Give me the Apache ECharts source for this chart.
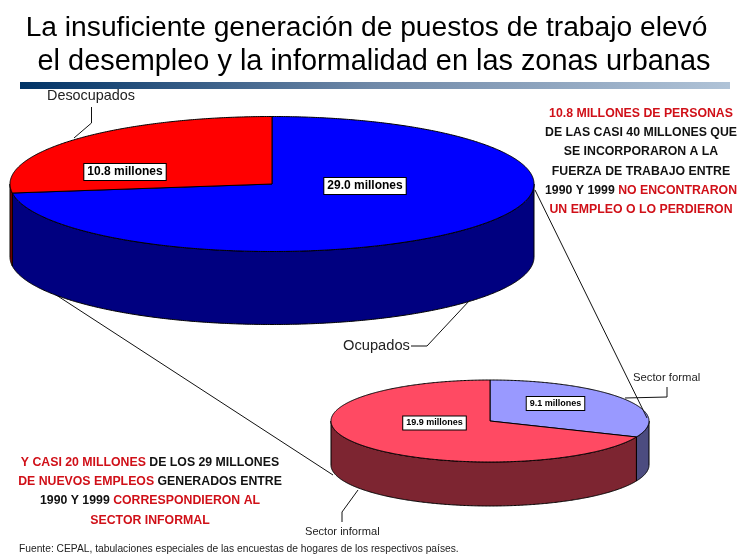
<!DOCTYPE html>
<html>
<head>
<meta charset="utf-8">
<style>html,body{margin:0;padding:0;background:#fff}#c{width:740px;height:554px}</style>
<script src="https://cdn.jsdelivr.net/npm/echarts@6/dist/echarts.min.js"></script>
</head>
<body>
<div id="c"></div>
<script>
// ---- data ----
const titleLines = ['La insuficiente generación de puestos de trabajo elevó', 'el desempleo y la informalidad en las zonas urbanas'];
const mainCategories = ['Ocupados', 'Desocupados'];
const mainValues = [29.0, 10.8];
const subCategories = ['Sector formal', 'Sector informal'];
const subValues = [9.1, 19.9];
const unitLabel = 'millones';
const sourceNote = 'Fuente: CEPAL, tabulaciones especiales de las encuestas de hogares de los respectivos países.';
const rightNote = [
  [['r', '10.8 MILLONES DE PERSONAS']],
  [['k', 'DE LAS CASI 40 MILLONES QUE']],
  [['k', 'SE INCORPORARON A LA']],
  [['k', 'FUERZA DE TRABAJO ENTRE']],
  [['k', '1990 Y 1999 '], ['r', 'NO ENCONTRARON']],
  [['r', 'UN EMPLEO O LO PERDIERON']]
];
const leftNote = [
  [['r', 'Y CASI 20 MILLONES '], ['k', 'DE LOS 29 MILLONES']],
  [['r', 'DE NUEVOS EMPLEOS '], ['k', 'GENERADOS ENTRE']],
  [['k', '1990 Y 1999 '], ['r', 'CORRESPONDIERON AL']],
  [['r', 'SECTOR INFORMAL']]
];

// ---- layout and style ----
const FONT = '"Liberation Sans", Arial, sans-serif';
const mainPie = {cx: 272, cy: 184, rx: 262, ry: 67.5, depth: 73,
  top: ['#0000FF', '#FF0000'], side: ['#000080', '#800000'],
  font: 'bold 12px ' + FONT, labelAt: [[365, 186], [125, 172]]};
const subPie = {cx: 490, cy: 421, rx: 159, ry: 41, depth: 44,
  top: ['#9999FF', '#FF4A63'], side: ['#4C4C80', '#7D2531'],
  font: 'bold 9px ' + FONT, labelAt: [[555.5, 403.5], [434.5, 423]]};

function pieSeries(name, values, cats, g) {
  const total = values.reduce((a, b) => a + b, 0);
  const pt = (deg, dy) => {
    const t = deg * Math.PI / 180;
    return [g.cx + g.rx * Math.sin(t), g.cy - g.ry * Math.cos(t) + (dy || 0)];
  };
  return {
    type: 'custom', name, coordinateSystem: 'none', animation: false, silent: true,
    data: values.map((v, i) => ({name: cats[i], value: [v]})),
    renderItem(params, api) {
      const i = params.dataIndex;
      const before = values.slice(0, i).reduce((a, b) => a + b, 0);
      const a0 = before / total * 360, a1 = (before + api.value(0)) / total * 360;
      const children = [];
      const w0 = Math.max(a0, 90), w1 = Math.min(a1, 270);
      const line = {stroke: '#000', lineWidth: 1, lineJoin: 'round'};
      if (w1 > w0) {
        const upper = [], lower = [];
        for (let d = w0; d < w1; d += 0.5) { upper.push(pt(d)); lower.push(pt(d, g.depth)); }
        upper.push(pt(w1)); lower.push(pt(w1, g.depth));
        children.push({type: 'polygon', shape: {points: upper.concat(lower.reverse())},
          style: Object.assign({fill: g.side[i]}, line)});
      }
      const top = [[g.cx, g.cy]];
      for (let d = a0; d < a1; d += 0.5) top.push(pt(d));
      top.push(pt(a1));
      children.push({type: 'polygon', shape: {points: top},
        style: Object.assign({fill: g.top[i]}, line)});
      children.push({type: 'text', x: g.labelAt[i][0], y: g.labelAt[i][1], z2: 10,
        style: {text: api.value(0).toFixed(1) + ' ' + unitLabel, font: g.font, fill: '#000',
          align: 'center', verticalAlign: 'middle', backgroundColor: '#fff',
          borderColor: '#000', borderWidth: 1, padding: [2, 3, 2, 3]}});
      return {type: 'group', children};
    }
  };
}

function richNote(lines, x, y, size, lh) {
  const text = lines.map(l => l.map(p => '{' + p[0] + '|' + p[1] + '}').join('')).join('\n');
  const base = {font: 'bold ' + size + 'px ' + FONT, lineHeight: lh};
  return {type: 'text', x, y, z: 6, style: {text, align: 'center', verticalAlign: 'top',
    rich: {r: Object.assign({fill: '#D01018'}, base), k: Object.assign({fill: '#111'}, base)}}};
}
const plainText = (text, x, y, size, align) => ({type: 'text', x, y, z: 6,
  style: {text, font: size + 'px ' + FONT, fill: '#222', align: align || 'left', verticalAlign: 'middle'}});
const leader = (pts, z) => ({type: 'polyline', z: z || 6, shape: {points: pts},
  style: {stroke: '#111', lineWidth: 1, fill: null}});

const chart = echarts.init(document.getElementById('c'), null, {renderer: 'canvas'});
chart.setOption({
  backgroundColor: '#fff',
  animation: false,
  series: [
    pieSeries('Fuerza de trabajo', mainValues, mainCategories, mainPie),
    pieSeries('Nuevos empleos', subValues, subCategories, subPie)
  ],
  graphic: {elements: [
    {type: 'text', x: 366.5, y: 28, z: 6, style: {text: titleLines[0], font: '28.2px ' + FONT, fill: '#000', align: 'center', verticalAlign: 'middle'}},
    {type: 'text', x: 374, y: 62.5, z: 6, style: {text: titleLines[1], font: '28.9px ' + FONT, fill: '#000', align: 'center', verticalAlign: 'middle'}},
    {type: 'rect', z: 6, shape: {x: 20, y: 82, width: 710, height: 7},
      style: {fill: new echarts.graphic.LinearGradient(0, 0, 1, 0, [{offset: 0, color: '#003366'}, {offset: 0.5, color: '#7089A8'}, {offset: 1, color: '#B0C3D7'}])}},
    leader([[30, 278], [333, 475]], 1),
    leader([[535, 190], [647, 418]]),
    leader([[91.5, 107], [91.5, 123], [74, 138]]),
    leader([[411, 346], [427, 346], [470, 300]]),
    leader([[625, 398], [667, 397], [667, 387]]),
    leader([[358, 490], [342, 512], [342, 522]]),
    plainText(mainCategories[1], 47, 96, 14.4),
    plainText(mainCategories[0], 343, 346, 14.7),
    plainText(subCategories[0], 633, 378, 11.3),
    plainText(subCategories[1], 305, 532, 11.1),
    plainText(sourceNote, 19, 549, 10.25),
    richNote(rightNote, 641, 104, 12.3, 19.2),
    richNote(leftNote, 150, 453, 12.3, 19.2)
  ]}
});
</script>
</body>
</html>
